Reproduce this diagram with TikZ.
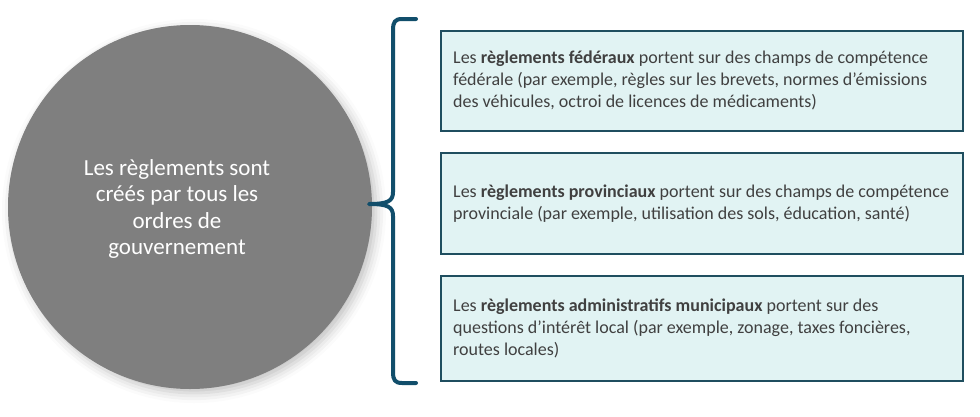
\documentclass[tikz,border=0pt]{standalone}
\usepackage{fontspec}
\setmainfont{Carlito}
\usetikzlibrary{shadows.blur}
\definecolor{boxfill}{HTML}{E1F3F3}
\definecolor{boxline}{HTML}{1F4E5F}
\definecolor{bracec}{HTML}{114E6B}
\definecolor{circ}{HTML}{7F7F7F}
\definecolor{txt}{HTML}{404040}
\tikzset{infobox/.style={draw=boxline,line width=1.6pt,fill=boxfill,minimum width=522pt,inner sep=0pt,anchor=north west},
  boxtext/.style={align=left,text=txt,font=\fontsize{18}{22}\selectfont,anchor=west,inner sep=0pt}}
\begin{document}
\begin{tikzpicture}[x=1pt,y=-1pt]
\useasboundingbox (0,0) rectangle (980,416);
\node[circle,fill=circ,minimum size=364pt,inner sep=0pt,blur shadow={shadow xshift=4pt,shadow yshift=-4pt,shadow blur radius=10pt,shadow opacity=25}] (c) at (190,207) {};
\node[text=white,align=center,font=\fontsize{23}{26.5}\selectfont] (ct) at ([xshift=-13pt,yshift=-2pt]c.center) {Les règlements sont\\créés par tous les\\ordres de\\gouvernement};
\node[infobox,minimum height=100pt] (b1) at (440,30) {};
\node[infobox,minimum height=101pt] (b2) at (440,152) {};
\node[infobox,minimum height=105pt] (b3) at (440,275) {};
\node[boxtext] (t1) at ([xshift=13pt]b1.west) {Les \textbf{règlements fédéraux} portent sur des champs de compétence\\fédérale (par exemple, règles sur les brevets, normes d’émissions\\des véhicules, octroi de licences de médicaments)};
\node[boxtext] (t2) at ([xshift=13pt]b2.west) {Les \textbf{règlements provinciaux} portent sur des champs de compétence\\provinciale (par exemple, utilisation des sols, éducation, santé)};
\node[boxtext] (t3) at ([xshift=13pt]b3.west) {Les \textbf{règlements administratifs municipaux} portent sur des\\questions d’intérêt local (par exemple, zonage, taxes foncières,\\routes locales)};
\draw[bracec,line width=4pt,line cap=round,line join=round] (416,19) -- (402,19) .. controls (395,19) and (393,22) .. (393,30) -- (393,192) .. controls (393,201) and (388,204) .. (369,204)
  .. controls (388,204) and (393,207) .. (393,216) -- (393,372) .. controls (393,380) and (395,383) .. (402,383) -- (416,383);
\end{tikzpicture}
\end{document}
